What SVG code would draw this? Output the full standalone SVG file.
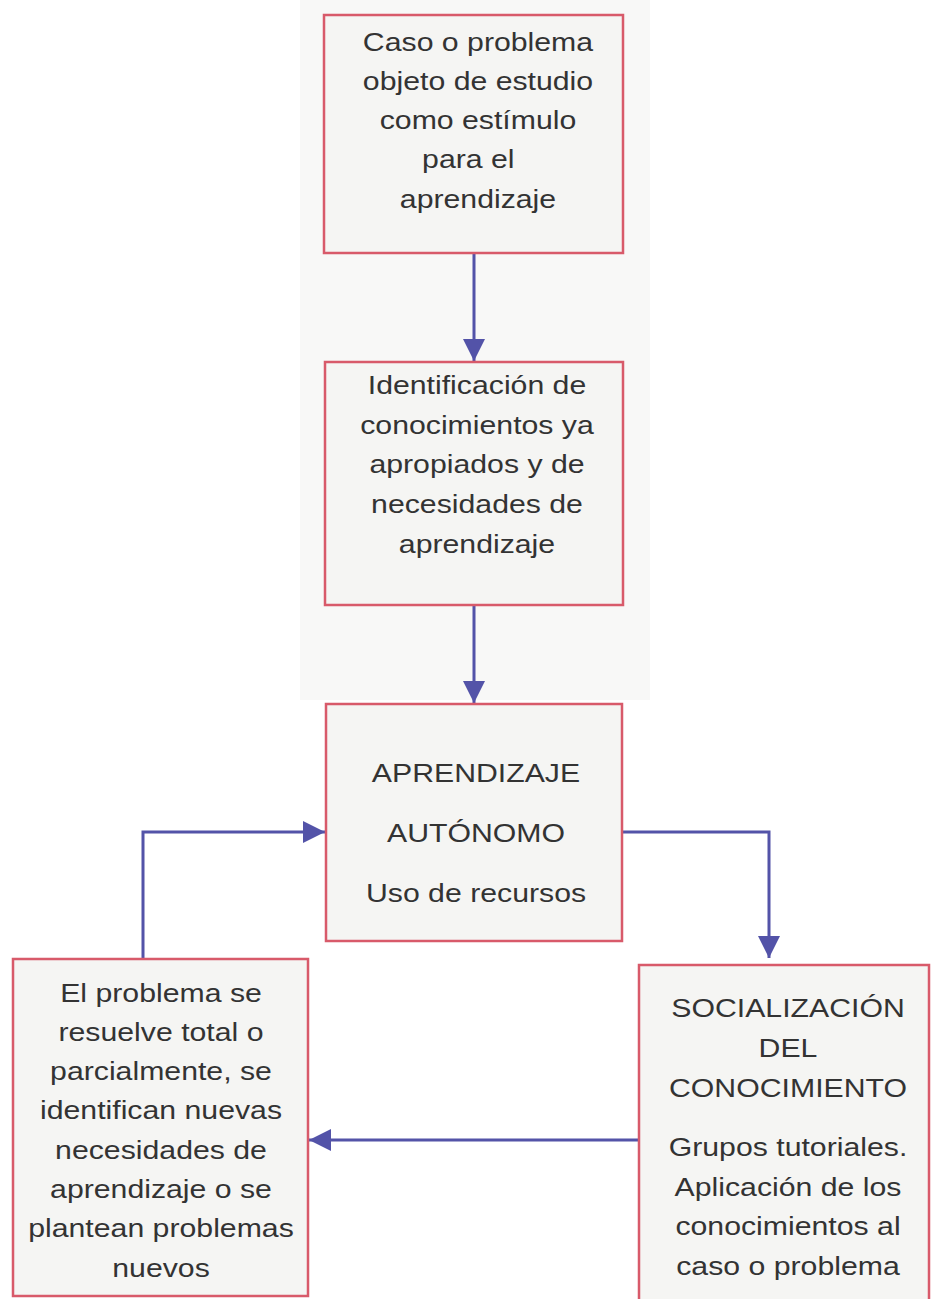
<svg xmlns="http://www.w3.org/2000/svg" width="933" height="1299" viewBox="0 0 933 1299">
<style>
.box{fill:#f5f5f3;stroke:#d85a6a;stroke-width:2.5}
.t{font-family:"Liberation Sans",Arial,sans-serif;font-size:25px;fill:#333;text-anchor:middle}
.c{fill:none;stroke:#5353a8;stroke-width:3}
</style>
<defs>
<marker id="ah" viewBox="0 0 22 22" refX="22" refY="11" markerWidth="22" markerHeight="22" markerUnits="userSpaceOnUse" orient="auto">
<path d="M0,0 L22,11 L0,22 z" fill="#5353a8"/>
</marker>
</defs>
<rect width="933" height="1299" fill="#ffffff"/>
<rect x="300" y="0" width="350" height="700" fill="#f8f8f7"/>
<g id="connectors">
<path class="c" d="M474,253 L474,361" marker-end="url(#ah)"/>
<path class="c" d="M474,605 L474,703" marker-end="url(#ah)"/>
<path class="c" d="M143,959 L143,832 L325,832" marker-end="url(#ah)"/>
<path class="c" d="M622,832 L769,832 L769,958" marker-end="url(#ah)"/>
<path class="c" d="M639,1140 L309,1140" marker-end="url(#ah)"/>
</g>
<g id="n1">
<rect class="box" x="324" y="15" width="299" height="238"/>
<g transform="translate(478 0) scale(1.21 1)">
<text class="t" x="0" y="51">Caso o problema</text>
<text class="t" x="0" y="90">objeto de estudio</text>
<text class="t" x="0" y="129">como estímulo</text>
<text class="t" x="-8" y="168">para el</text>
<text class="t" x="0" y="208">aprendizaje</text>
</g>
</g>
<g id="n2">
<rect class="box" x="325" y="362" width="298" height="243"/>
<g transform="translate(477 0) scale(1.21 1)">
<text class="t" x="0" y="394">Identificación de</text>
<text class="t" x="0" y="434">conocimientos ya</text>
<text class="t" x="0" y="473">apropiados y de</text>
<text class="t" x="0" y="513">necesidades de</text>
<text class="t" x="0" y="553">aprendizaje</text>
</g>
</g>
<g id="n3">
<rect class="box" x="326" y="704" width="296" height="237"/>
<g transform="translate(476 0) scale(1.21 1)">
<text class="t" x="0" y="782">APRENDIZAJE</text>
<text class="t" x="0" y="842">AUTÓNOMO</text>
<text class="t" x="0" y="902">Uso de recursos</text>
</g>
</g>
<g id="n4">
<rect class="box" x="13" y="959" width="295" height="337"/>
<g transform="translate(161 0) scale(1.21 1)">
<text class="t" x="0" y="1002">El problema se</text>
<text class="t" x="0" y="1041">resuelve total o</text>
<text class="t" x="0" y="1080">parcialmente, se</text>
<text class="t" x="0" y="1119">identifican nuevas</text>
<text class="t" x="0" y="1159">necesidades de</text>
<text class="t" x="0" y="1198">aprendizaje o se</text>
<text class="t" x="0" y="1237">plantean problemas</text>
<text class="t" x="0" y="1277">nuevos</text>
</g>
</g>
<g id="n5">
<rect class="box" x="639" y="965" width="290" height="345"/>
<g transform="translate(788 0) scale(1.21 1)">
<text class="t" x="0" y="1017">SOCIALIZACIÓN</text>
<text class="t" x="0" y="1057">DEL</text>
<text class="t" x="0" y="1097">CONOCIMIENTO</text>
<text class="t" x="0" y="1156">Grupos tutoriales.</text>
<text class="t" x="0" y="1196">Aplicación de los</text>
<text class="t" x="0" y="1235">conocimientos al</text>
<text class="t" x="0" y="1275">caso o problema</text>
</g>
</g>
</svg>
